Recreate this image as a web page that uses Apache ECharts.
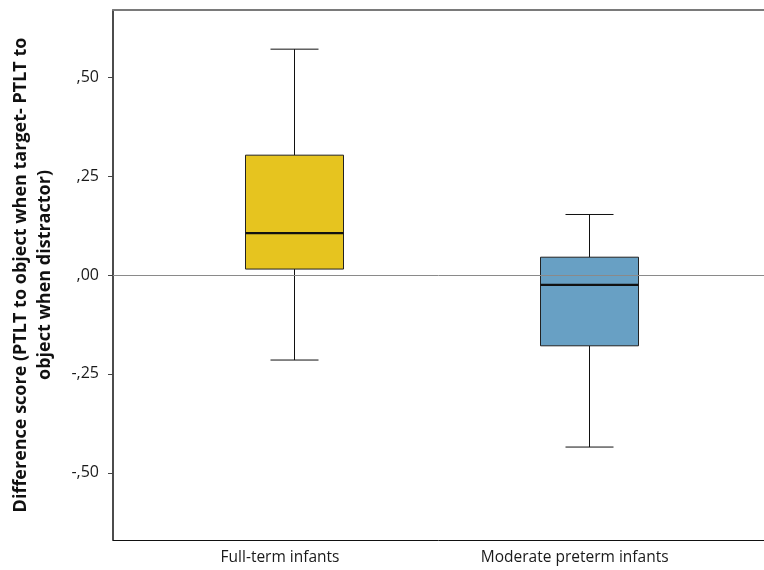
<!DOCTYPE html>
<html>
<head>
<meta charset="utf-8">
<script src="https://cdn.jsdelivr.net/npm/echarts@6/dist/echarts.min.js"></script>
<style>
  html, body { margin: 0; padding: 0; background: #fff; }
  #chart { width: 764px; height: 570px; }
</style>
</head>
<body>
<div id="chart"></div>
<script>
// Group names and five-number summaries for each box
const categories = ['Full-term infants', 'Moderate preterm infants'];
const whiskerLow  = [-0.215, -0.435];
const quartile1   = [0.015, -0.179];
const medians     = [0.106, -0.025];
const quartile3   = [0.303, 0.045];
const whiskerHigh = [0.571, 0.153];
const yTickValues = [-0.5, -0.25, 0, 0.25, 0.5];

const boxFills = ['#E6C41F', '#68A0C4'];
const FONT = 'Open Sans';

// ",50" / "-,25" style decimal-comma labels
function fmtTick(v) {
  const s = Math.abs(v).toFixed(2).slice(1).replace('.', ',');
  return (v < 0 ? '-' : '') + s;
}

const boxData = categories.map((c, i) => [i + 1, whiskerLow[i], quartile1[i], medians[i], quartile3[i], whiskerHigh[i]]);

const chart = echarts.init(document.getElementById('chart'));
chart.setOption({
  animation: false,
  grid: { left: 113, right: 0, top: 10, bottom: 30, containLabel: false },
  xAxis: [{
    type: 'value',
    min: 0.3856,
    max: 2.595,
    axisLine: { show: true, onZero: false, lineStyle: { color: '#111', width: 1 } },
    axisTick: { show: false },
    splitLine: { show: false },
    axisLabel: {
      customValues: [1, 2],
      formatter: v => categories[Math.round(v) - 1] || '',
      fontFamily: FONT, fontSize: 15.5, color: '#1a1a1a', margin: 10,
      padding: [0, 28, 0, 0]
    }
  }, {
    type: 'value',
    position: 'top',
    min: 0.3856,
    max: 2.595,
    axisLine: { show: true, onZero: false, lineStyle: { color: '#7a7a7a', width: 2 } },
    axisTick: { show: false },
    axisLabel: { show: false },
    splitLine: { show: false }
  }],
  yAxis: {
    type: 'value',
    min: -0.67,
    max: 0.67,
    name: 'Difference score (PTLT to object when target- PTLT to\nobject when distractor)',
    nameLocation: 'middle',
    nameGap: 56,
    nameTextStyle: { fontFamily: FONT, fontSize: 18, fontWeight: 'bold', color: '#111', lineHeight: 24 },
    axisLine: { show: true, onZero: false, lineStyle: { color: '#111', width: 1.5 } },
    axisTick: { show: true, customValues: yTickValues, length: 5, lineStyle: { color: '#444' } },
    splitLine: { show: false },
    axisLabel: {
      customValues: yTickValues,
      formatter: fmtTick,
      fontFamily: FONT, fontSize: 16, color: '#1a1a1a', margin: 14
    }
  },
  series: [{
    type: 'custom',
    xAxisIndex: 0,
    data: boxData,
    encode: { x: 0, y: [1, 2, 3, 4, 5] },
    markLine: {
      silent: true,
      symbol: 'none',
      label: { show: false },
      lineStyle: { color: '#8a8a8a', width: 1, type: 'solid' },
      data: [{ yAxis: 0 }]
    },
    renderItem: function (params, api) {
      const x = api.value(0);
      const idx = params.dataIndex;
      const pLow = api.coord([x, api.value(1)]);
      const pQ1 = api.coord([x, api.value(2)]);
      const pMed = api.coord([x, api.value(3)]);
      const pQ3 = api.coord([x, api.value(4)]);
      const pHigh = api.coord([x, api.value(5)]);
      const cx = Math.round(pLow[0]) + 0.5;
      const halfBox = 49;
      const halfCap = 24;
      const lineStyle = { stroke: '#111', lineWidth: 1, fill: null };
      return {
        type: 'group',
        children: [
          { type: 'line', shape: { x1: cx, y1: pHigh[1], x2: cx, y2: pQ3[1] }, style: lineStyle },
          { type: 'line', shape: { x1: cx, y1: pQ1[1], x2: cx, y2: pLow[1] }, style: lineStyle },
          { type: 'line', shape: { x1: cx - halfCap, y1: pHigh[1], x2: cx + halfCap, y2: pHigh[1] }, style: lineStyle },
          { type: 'line', shape: { x1: cx - halfCap, y1: pLow[1], x2: cx + halfCap, y2: pLow[1] }, style: lineStyle },
          {
            type: 'rect',
            shape: { x: cx - halfBox, y: pQ3[1], width: halfBox * 2, height: pQ1[1] - pQ3[1] },
            style: { fill: boxFills[idx], stroke: '#222', lineWidth: 1 }
          },
          { type: 'line', shape: { x1: cx - halfBox, y1: pMed[1], x2: cx + halfBox, y2: pMed[1] }, style: { stroke: '#111', lineWidth: 2.2 } }
        ]
      };
    },
    z: 3
  }]
});
</script>
</body>
</html>
